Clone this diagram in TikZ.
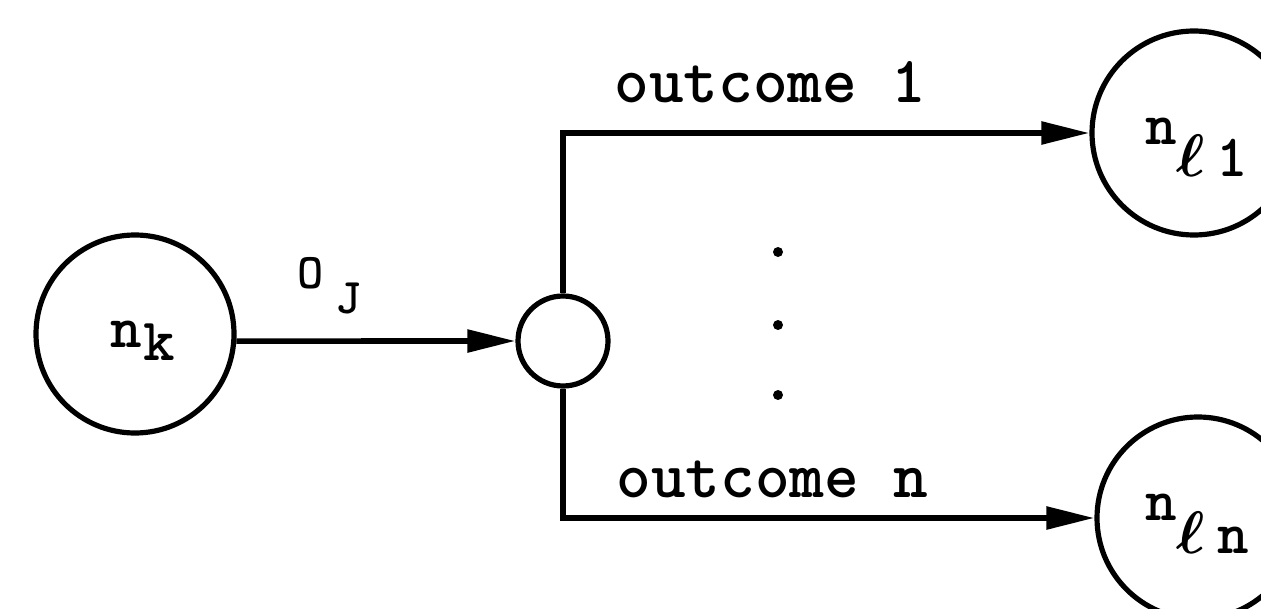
\RequirePackage{fix-cm}
\documentclass[tikz,border=0pt]{standalone}
\usepackage{fontspec}
\usepackage{bm}
\usetikzlibrary{arrows.meta}
\tikzset{
  state/.style={circle, draw, line width=2.6pt, inner sep=0pt},
  flow/.style={line width=2.8pt, -{Triangle[length=24pt,width=11pt]}},
  outtext/.style={font=\fontsize{33}{40}\selectfont\ttfamily\bfseries, inner sep=0pt, anchor=base west},
  symtext/.style={font=\fontsize{30}{36}\selectfont\ttfamily\bfseries, inner sep=0pt, anchor=base west},
  optext/.style={font=\fontsize{25}{30}\selectfont\ttfamily\bfseries, inner sep=0pt, anchor=base west},
  dotmark/.style={circle, fill, inner sep=0pt, minimum size=5pt},
}
\begin{document}
\begin{tikzpicture}[x=0.5pt,y=-0.5pt]
\clip (0,0) rectangle (1261,609);

% states and the decision point
\node[state, minimum size=99pt]  (nk)  at (135,334)  {};
\node[state, minimum size=45pt]  (dec) at (563,341)  {};
\node[state, minimum size=102pt] (l1)  at (1194,133) {};
\node[state, minimum size=101pt] (ln)  at (1198,518) {};

% state labels
\node[symtext] (tk) at (110,347)  {n\kern1pt\raisebox{-6.5pt}{k}};
\node[symtext] (t1) at (1145,145) {n\raisebox{-16pt}{$\bm{\ell}$\kern5.5pt 1}};
\node[symtext] (tn) at (1145,520) {n\raisebox{-16.5pt}{$\bm{\ell}$\kern6pt n}};

% connectors
\draw[flow] (nk.-4) -- (dec.west);
\draw[flow] (dec.north) |- (l1.west);
\draw[flow] (dec.south) |- (ln.west);

% connector labels
\node[optext]  (oj) at (297,288) {O\kern6pt\raisebox{-12.5pt}{J}};
\node[outtext] (o1) at (614,103) {outcome 1};
\node[outtext] (on) at (616,497) {outcome n};

% vertical ellipsis between the outcomes
\node[dotmark] (d1) at (778,252) {};
\node[dotmark] (d2) at (778,325) {};
\node[dotmark] (d3) at (778,395) {};
\end{tikzpicture}
\end{document}
